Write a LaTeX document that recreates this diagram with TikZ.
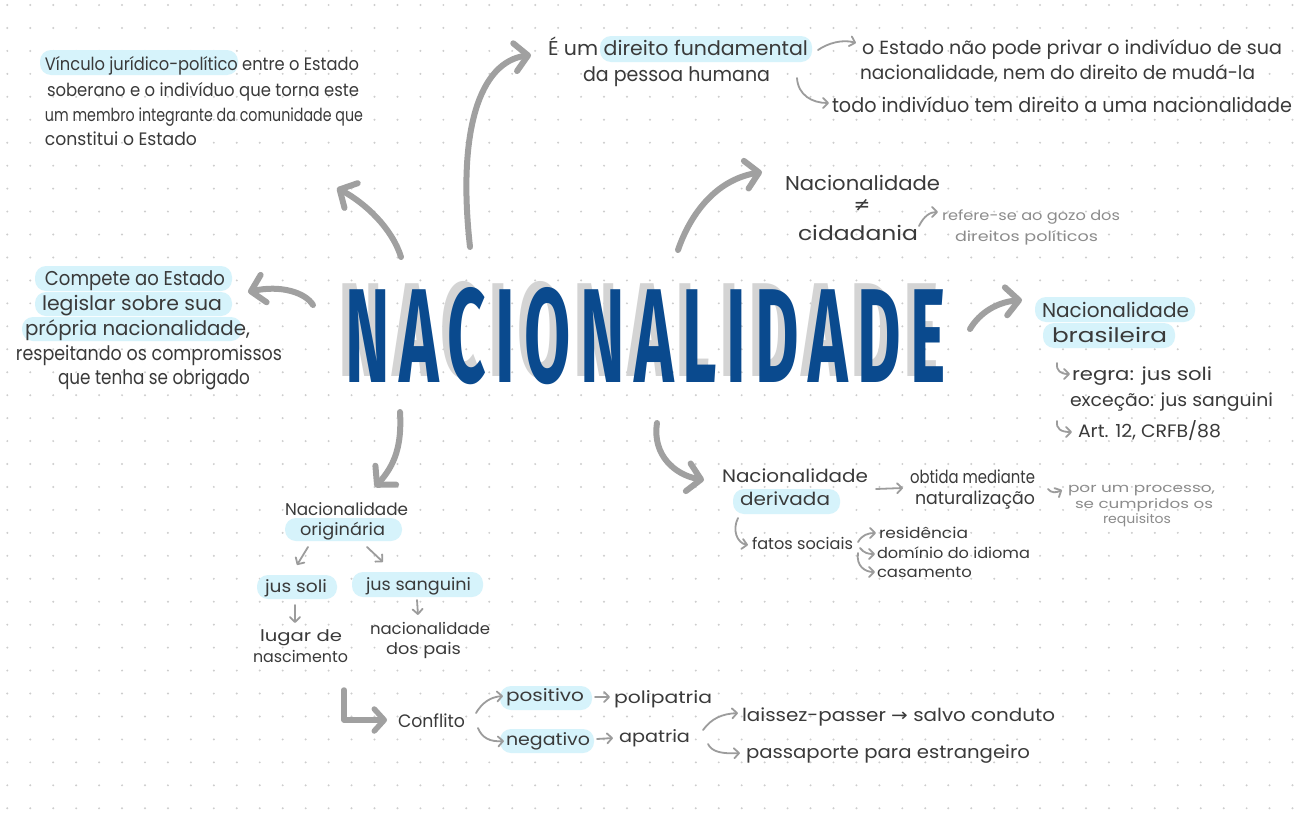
\documentclass[tikz,border=0pt]{standalone}
\usepackage{fontspec}
\usepackage{graphicx}
\usetikzlibrary{arrows.meta}
\setmainfont{Poppins}
\newfontfamily\titlefont[LetterSpace=14]{Fira Sans}
\newfontfamily\symf{DejaVu Sans}
\definecolor{txtc}{HTML}{3A3A3A}
\definecolor{notec}{HTML}{8C8C8C}
\definecolor{hlc}{HTML}{D6F3FB}
\definecolor{arrc}{HTML}{A0A0A0}
\definecolor{thinc}{HTML}{9C9C9C}
\definecolor{titleblue}{HTML}{0A4A8E}
\definecolor{shadowc}{HTML}{D4D4D4}
\definecolor{dotc}{HTML}{CDCDCD}
\tikzset{
  txt/.style={anchor=base west,inner sep=0pt,outer sep=0pt,text=txtc},
  notetxt/.style={txt,text=notec},
  hilite/.style={fill=hlc,rounded corners=11pt},
  bigarrow/.style={draw=arrc,line width=6pt,line cap=round,line join=round,
    -{Straight Barb[length=13pt,width=28pt,round]}},
  midarrow/.style={draw=arrc,line width=5.5pt,line cap=round,line join=round,
    -{Straight Barb[length=10pt,width=22pt,round]}},
  thinarrow/.style={draw=thinc,line width=1.8pt,line cap=round,line join=round,
    -{Straight Barb[length=5pt,width=10pt,round]}}
}
\newcommand\tline[6]{\node[txt,font=\fontsize{#5}{#5}\selectfont] (#1) at (#2,#3) {\resizebox{#4pt}{\height}{#6}};}
\newcommand\nline[6]{\node[notetxt,font=\fontsize{#5}{#5}\selectfont] (#1) at (#2,#3) {\resizebox{#4pt}{\height}{#6}};}
\newcommand\titleword{\resizebox{600pt}{95pt}{\titlefont\bfseries NACIONALIDADE}}
\begin{document}
\begin{tikzpicture}[x=1pt,y=-1pt]
\useasboundingbox (0,0) rectangle (1302,814);
\fill[white] (0,0) rectangle (1302,814);
% dot grid
\foreach \i in {0,...,56}{\foreach \j in {0,...,35}{\fill[dotc] ({7.3+\i*22.95},{5+\j*22.95}) circle (1.1pt);}}

% highlights
\fill[hilite] (40,50) rectangle (238,75);
\fill[hilite] (600,36) rectangle (812,62);
\fill[hilite] (35,266) rectangle (232,291);
\fill[hilite] (35,292) rectangle (232,316);
\fill[hilite] (22,317) rectangle (242,341);
\fill[hilite] (1035,297) rectangle (1195,322);
\fill[hilite] (1043,323) rectangle (1175,348);
\fill[hilite] (733,489) rectangle (840,514);
\fill[hilite] (285,518) rectangle (402,541);
\fill[hilite] (257,575) rectangle (337,599);
\fill[hilite] (352,572) rectangle (483,597);
\fill[hilite] (500,686) rectangle (592,710);
\fill[hilite] (500,729) rectangle (594,753);

% title with its shadow in one node
\node[anchor=south west,inner sep=0pt] (title) at (345,385)
  {\makebox[0pt][l]{\hspace*{-7pt}\raisebox{6pt}{\textcolor{shadowc}{\titleword}}}\textcolor{titleblue}{\titleword}};

% top-left
\tline{tl1}{45}{70}{314}{18}{Vínculo jurídico-político entre o Estado}
\tline{tl2}{47}{96}{312}{18}{soberano e o indivíduo que torna este}
\tline{tl3}{45}{121}{318}{18}{um membro integrante da comunidade que}
\tline{tl4}{45}{145}{152}{18}{constitui o Estado}

% top center
\tline{f1}{548}{55}{260}{20}{É um direito fundamental}
\tline{f2}{583}{81}{187}{20}{da pessoa humana}
\tline{e1}{862}{54}{420}{19}{o Estado não pode privar o indivíduo de sua}
\tline{e2}{860}{79}{395}{19}{nacionalidade, nem do direito de mudá-la}
\tline{e3}{832}{112}{460}{20}{todo indivíduo tem direito a uma nacionalidade}

% nacionalidade != cidadania
\tline{c1}{785}{190}{155}{20}{Nacionalidade}
\node[inner sep=0pt,text=txtc,font=\symf\fontsize{20}{20}\selectfont] (neq) at (862,205) {≠};
\tline{c2}{798}{240}{120}{20}{cidadania}
\nline{n1}{942}{220}{178}{14}{refere-se ao gozo dos}
\nline{n2}{955}{241}{143}{14}{direitos políticos}

% left block
\tline{lb1}{45}{285}{180}{20}{Compete ao Estado}
\tline{lb2}{42}{310}{180}{20}{legislar sobre sua}
\tline{lb3}{25}{335}{225}{20}{própria nacionalidade,}
\tline{lb4}{16}{360}{266}{20}{respeitando os compromissos}
\tline{lb5}{58}{384}{192}{20}{que tenha se obrigado}

% right block
\tline{rb1}{1042}{317}{147}{20}{Nacionalidade}
\tline{rb2}{1052}{342}{115}{20}{brasileira}
\tline{rb3}{1072}{380}{140}{18}{regra: jus soli}
\tline{rb4}{1070}{406}{203}{18}{exceção: jus sanguini}
\tline{rb5}{1078}{437}{143}{18}{Art. 12, CRFB/88}

% derivada
\tline{d1}{722}{482}{146}{18}{Nacionalidade}
\tline{d2}{740}{505}{90}{18}{derivada}
\tline{ob1}{910}{483}{125}{18}{obtida mediante}
\tline{ob2}{915}{504}{120}{18}{naturalização}
\nline{p1}{1068}{492}{147}{13}{por um processo,}
\nline{p2}{1075}{508}{138}{13}{se cumpridos os}
\nline{p3}{1103}{523}{68}{13}{requisitos}
\tline{fs}{752}{549}{101}{16}{fatos sociais}
\tline{r1}{879}{538}{89}{15}{residência}
\tline{r2}{877}{558}{153}{15}{domínio do idioma}
\tline{r3}{877}{577}{95}{15}{casamento}

% originaria
\tline{o1}{285}{515}{123}{17}{Nacionalidade}
\tline{o2}{300}{535}{85}{17}{originária}
\tline{js1}{265}{592}{62}{17}{jus soli}
\tline{js2}{366}{590}{105}{17}{jus sanguini}
\tline{lg1}{260}{641}{82}{16}{lugar de}
\tline{lg2}{253}{662}{95}{16}{nascimento}
\tline{np1}{370}{634}{120}{16}{nacionalidade}
\tline{np2}{386}{654}{75}{16}{dos pais}

% conflito
\tline{cf}{398}{727}{67}{18}{Conflito}
\tline{pos}{506}{701}{78}{17}{positivo}
\tline{pol}{614}{703}{98}{17}{polipatria}
\tline{neg}{506}{745}{84}{17}{negativo}
\tline{apa}{619}{742}{71}{17}{apatria}
\tline{lp}{742}{721}{313}{18}{laissez-passer {\symf →} salvo conduto}
\tline{pp}{746}{758}{284}{18}{passaporte para estrangeiro}

% big arrow coordinates
\coordinate (b1s) at (401,257); \coordinate (b1e) at (337,188);
\coordinate (b2s) at (470,247); \coordinate (b2e) at (531,55);
\coordinate (b3s) at (678,250); \coordinate (b3e) at (762,172);
\coordinate (b4s) at (313,305); \coordinate (b4e) at (248,292);
\coordinate (b5s) at (400,412); \coordinate (b5e) at (375,487);
\coordinate (b6s) at (657,423); \coordinate (b6e) at (704,480);
\coordinate (b7s) at (970,329); \coordinate (b7e) at (1022,300);
\coordinate (b8s) at (344,690); \coordinate (b8c) at (344,720); \coordinate (b8e) at (387,720);

\draw[bigarrow] (b1s) .. controls (392,228) and (365,203) .. (b1e);
\draw[bigarrow] (b2s) .. controls (457,130) and (480,62) .. (b2e);
\draw[bigarrow] (b3s) .. controls (690,215) and (715,180) .. (b3e);
\draw[bigarrow] (b4s) .. controls (305,292) and (280,285) .. (b4e);
\draw[bigarrow] (b5s) .. controls (402,445) and (395,465) .. (b5e);
\draw[bigarrow] (b6s) .. controls (652,455) and (675,475) .. (b6e);
\draw[bigarrow] (b7s) .. controls (980,312) and (998,302) .. (b7e);
\draw[midarrow] (b8s) -- (b8c) -- (b8e);

% thin arrow coordinates
\coordinate (t1s) at (818,50);  \coordinate (t1e) at (856,43);
\coordinate (t2s) at (797,78);  \coordinate (t2e) at (829,103);
\coordinate (t3s) at (919,226); \coordinate (t3e) at (938,212);
\coordinate (t4s) at (876,489); \coordinate (t4e) at (903,488);
\coordinate (t5s) at (1048,489); \coordinate (t5e) at (1062,490);
\coordinate (t6s) at (738,518); \coordinate (t6e) at (748,545);
\coordinate (t7s) at (858,542); \coordinate (t7e) at (876,533);
\coordinate (t8s) at (860,548); \coordinate (t8e) at (875,554);
\coordinate (t9s) at (858,553); \coordinate (t9e) at (875,572);
\coordinate (t10s) at (308,547); \coordinate (t10e) at (297,565);
\coordinate (t11s) at (367,547); \coordinate (t11e) at (383,562);
\coordinate (t12s) at (295,605); \coordinate (t12e) at (295,623);
\coordinate (t13s) at (417,600); \coordinate (t13e) at (418,615);
\coordinate (t14s) at (476,713); \coordinate (t14e) at (503,696);
\coordinate (t15s) at (478,728); \coordinate (t15e) at (504,741);
\coordinate (t16s) at (595,697); \coordinate (t16e) at (610,697);
\coordinate (t17s) at (597,739); \coordinate (t17e) at (613,738);
\coordinate (t18s) at (703,730); \coordinate (t18e) at (738,713);
\coordinate (t19s) at (708,744); \coordinate (t19e) at (740,753);
\coordinate (h1s) at (1057,363); \coordinate (h1e) at (1070,374);
\coordinate (h2s) at (1057,421); \coordinate (h2e) at (1072,432);

\draw[thinarrow] (t1s) .. controls (828,43) and (843,39) .. (t1e);
\draw[thinarrow] (t2s) .. controls (798,95) and (812,103) .. (t2e);
\draw[thinarrow] (t3s) .. controls (924,216) and (930,212) .. (t3e);
\draw[thinarrow] (t4s) -- (t4e);
\draw[thinarrow] (t5s) .. controls (1051,493) and (1056,493) .. (t5e);
\draw[thinarrow] (t6s) .. controls (732,530) and (737,543) .. (t6e);
\draw[thinarrow] (t7s) .. controls (862,535) and (868,533) .. (t7e);
\draw[thinarrow] (t8s) .. controls (864,553) and (868,554) .. (t8e);
\draw[thinarrow] (t9s) .. controls (856,566) and (865,572) .. (t9e);
\draw[thinarrow] (t10s) -- (t10e);
\draw[thinarrow] (t11s) -- (t11e);
\draw[thinarrow] (t12s) -- (t12e);
\draw[thinarrow] (t13s) -- (t13e);
\draw[thinarrow] (t14s) .. controls (482,703) and (490,697) .. (t14e);
\draw[thinarrow] (t15s) .. controls (482,738) and (490,742) .. (t15e);
\draw[thinarrow] (t16s) -- (t16e);
\draw[thinarrow] (t17s) -- (t17e);
\draw[thinarrow] (t18s) .. controls (712,718) and (722,714) .. (t18e);
\draw[thinarrow] (t19s) .. controls (712,752) and (722,754) .. (t19e);
\draw[thinarrow] (h1s) .. controls (1056,371) and (1061,374) .. (h1e);
\draw[thinarrow] (h2s) .. controls (1056,429) and (1061,432) .. (h2e);
\end{tikzpicture}
\end{document}
